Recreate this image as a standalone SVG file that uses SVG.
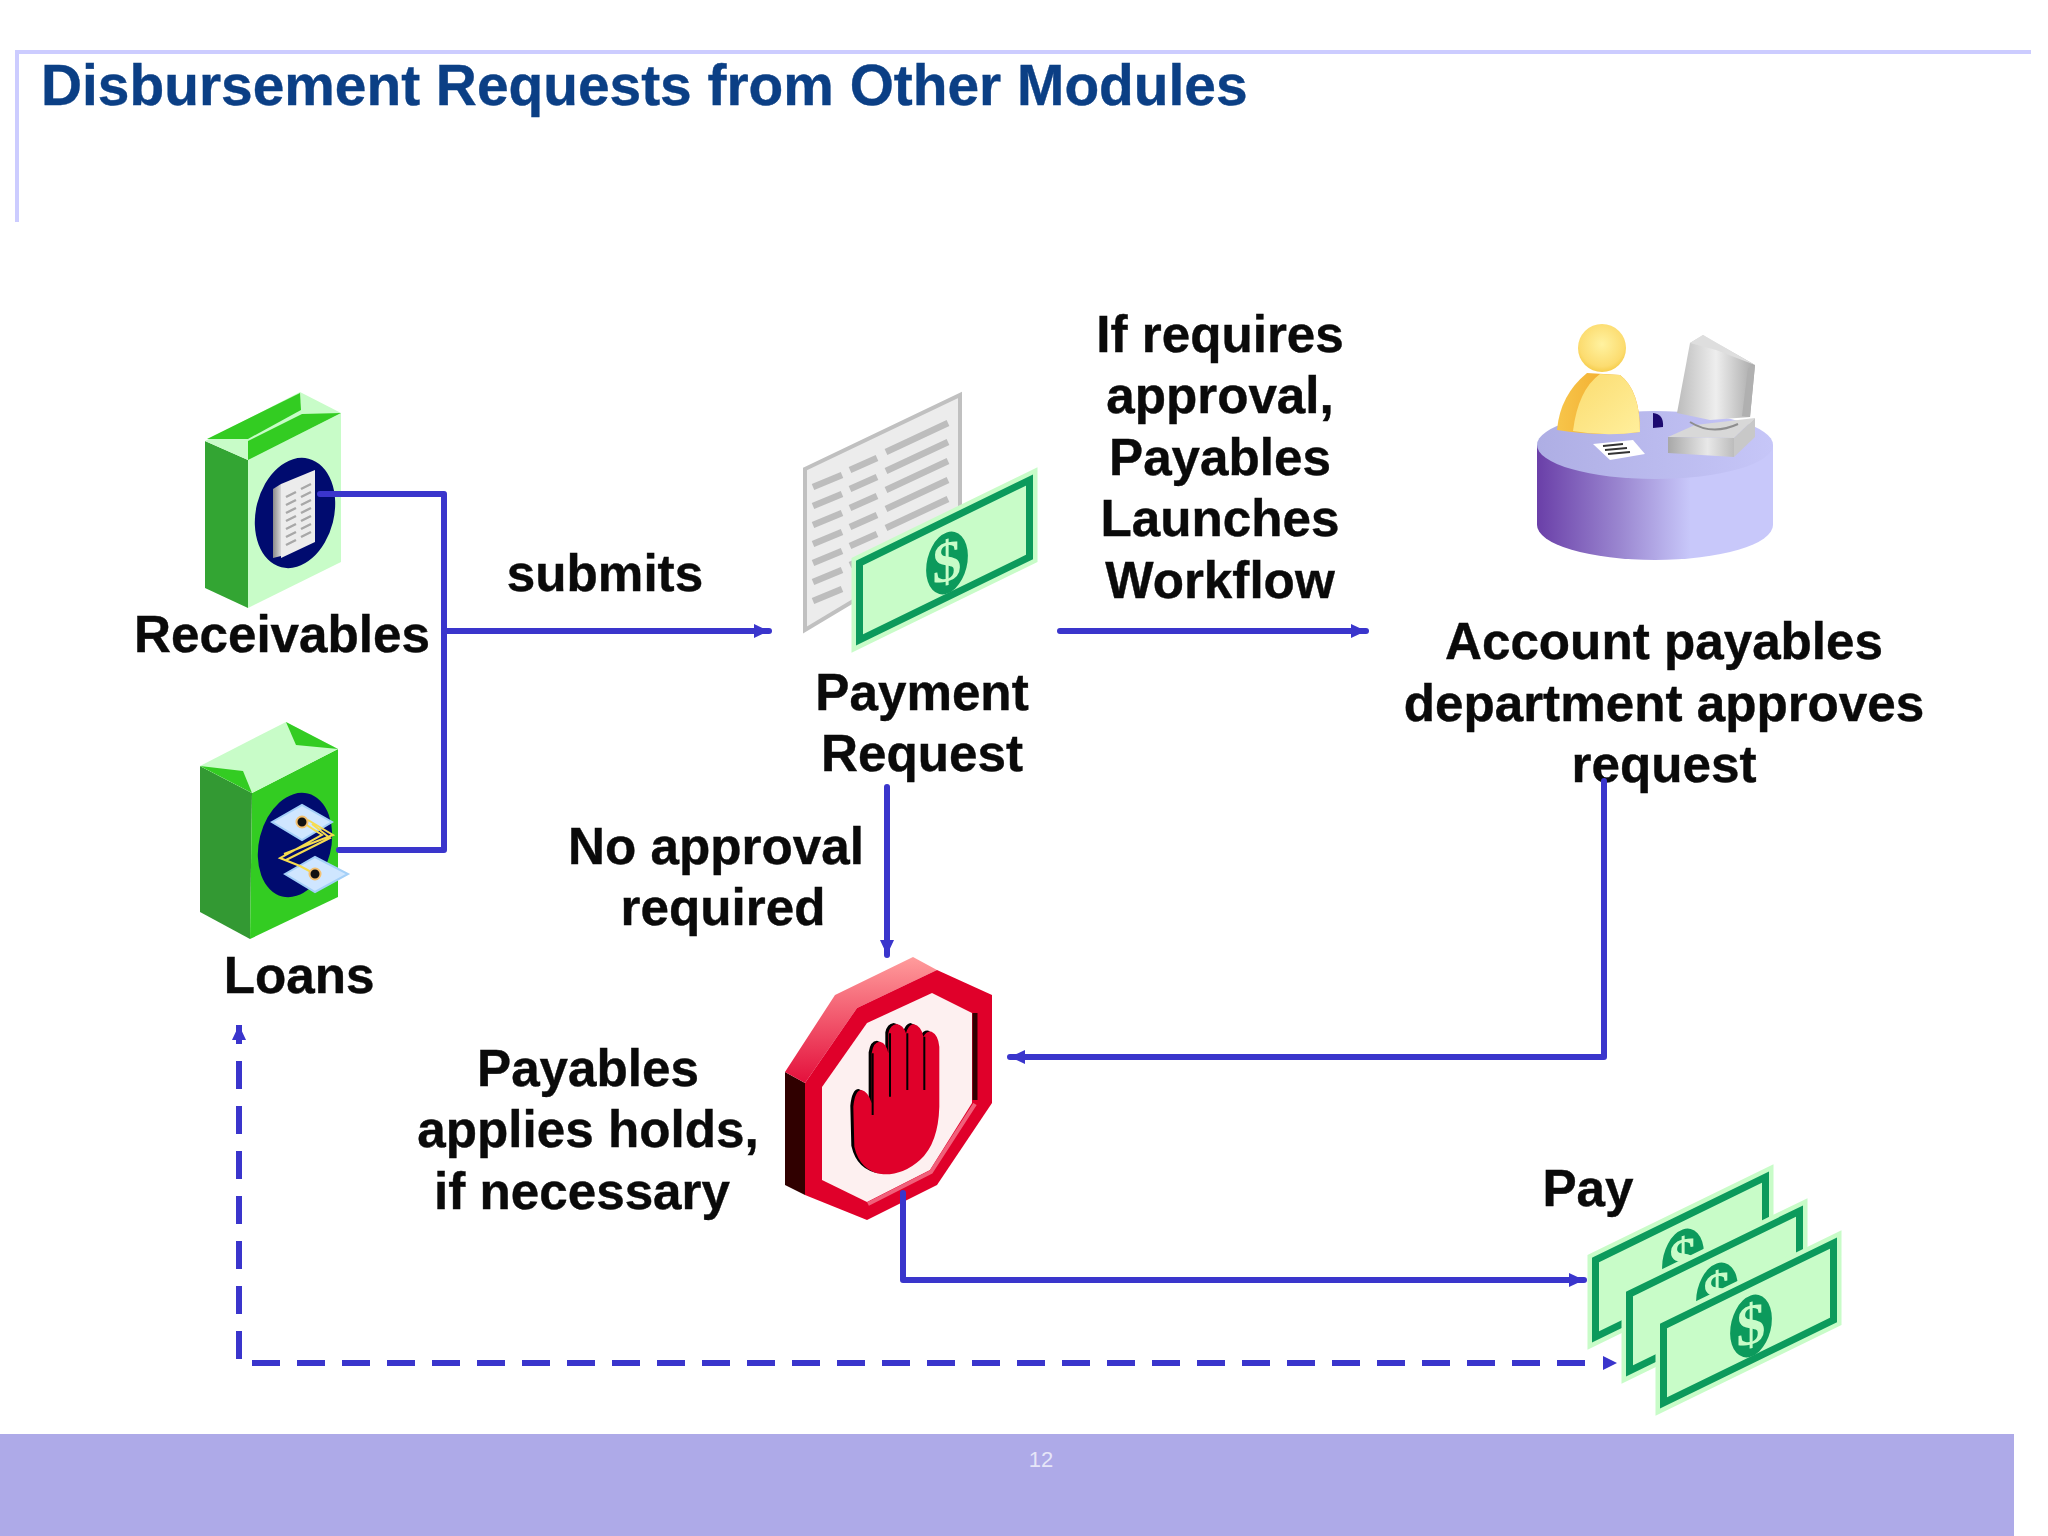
<svg xmlns="http://www.w3.org/2000/svg" width="2048" height="1536" viewBox="0 0 2048 1536">
<style>
text{font-family:"Liberation Sans",Arial,sans-serif}
.lb{font-size:51.2px;font-weight:700;fill:#0a0a0a;stroke:#0a0a0a;stroke-width:.4px;text-anchor:middle}
.c{fill:none;stroke:#3a35cc;stroke-width:6;stroke-linejoin:round;stroke-linecap:round}
.h{fill:#3a35cc}
.usd{font-family:"Liberation Serif","Times New Roman",serif;font-size:58px;font-weight:700;fill:#c8fcc8;text-anchor:middle}
</style>
<defs>
<marker id="a" markerUnits="userSpaceOnUse" markerWidth="16" markerHeight="14" refX="15" refY="7" orient="auto"><path d="M0 0L15 7L0 14Z" fill="#3a35cc"/></marker>
<linearGradient id="desk" x1="0" x2="1" y1="0" y2="0"><stop offset="0" stop-color="#6a3fa8"/><stop offset=".35" stop-color="#9a86d0"/><stop offset=".65" stop-color="#c8c8fa"/><stop offset="1" stop-color="#c8c8fa"/></linearGradient>
<linearGradient id="desktop" x1="0" x2="1" y1="0" y2="0"><stop offset="0" stop-color="#aeaee4"/><stop offset="1" stop-color="#c6c6f8"/></linearGradient>
<radialGradient id="head" cx=".5" cy=".42" r=".62"><stop offset="0" stop-color="#fff2a0"/><stop offset=".75" stop-color="#fcdc70"/><stop offset="1" stop-color="#f4c840"/></radialGradient>
<linearGradient id="body" x1="0" x2="1" y1="0" y2="1"><stop offset="0" stop-color="#fbdc70"/><stop offset="1" stop-color="#ffef9c"/></linearGradient>
<linearGradient id="lobe" x1="0" x2="1" y1="0" y2="0"><stop offset="0" stop-color="#f7c54a"/><stop offset="1" stop-color="#f0a020"/></linearGradient>
<linearGradient id="mon" x1="0" x2="1" y1="0" y2="0"><stop offset="0" stop-color="#bcbcbc"/><stop offset=".5" stop-color="#eeeeee"/><stop offset="1" stop-color="#a8a8a8"/></linearGradient>
<linearGradient id="base" x1="0" x2="1" y1="0" y2="0"><stop offset="0" stop-color="#a8a8a8"/><stop offset=".6" stop-color="#e8e8e8"/><stop offset="1" stop-color="#bcbcbc"/></linearGradient>
<linearGradient id="rim" x1="0" x2="0" y1="0" y2="1"><stop offset="0" stop-color="#ff9c9c"/><stop offset="1" stop-color="#e4103c"/></linearGradient>
<linearGradient id="spine" x1="0" x2="1" y1="0" y2="0"><stop offset="0" stop-color="#8a8a8a"/><stop offset="1" stop-color="#d8d8d8"/></linearGradient>
<g id="bill">
<polygon points="3.5,3 173.5,-80 173.5,-3 3.5,80" fill="#c8fcc8" stroke="#c8fcc8" stroke-width="16" stroke-linejoin="miter"/>
<polygon points="3.5,3 173.5,-80 173.5,-3 3.5,80" fill="#c8fcc8" stroke="#0c9a5c" stroke-width="7" stroke-linejoin="miter"/>
<ellipse cx="91" cy="3" rx="20" ry="32" transform="rotate(14 91 3)" fill="#0c9a5c"/>
</g>
</defs>
<rect width="2048" height="1536" fill="#fff"/>
<g id="frame">
<path d="M17 222V52H2031" fill="none" stroke="#ccccff" stroke-width="4"/>
<text x="41" y="105" font-size="56.85" font-weight="700" fill="#0b3f85" stroke="#0b3f85" stroke-width=".4">Disbursement Requests from Other Modules</text>
</g>
<g id="footer">
<rect x="0" y="1434" width="2014" height="102" fill="#aeaae8"/>
<text x="1041" y="1467" font-size="22" fill="#e6e6f8" text-anchor="middle">12</text>
</g>
<g id="receivables">
<polygon points="205,441 248,460 248,608 205,588" fill="#33a533"/>
<polygon points="248,460 341,413 341,562 248,608" fill="#c8fcc8"/>
<polygon points="205,441 300,392 341,413 248,460" fill="#c8fcc8"/>
<polygon points="207,439 300,393 301,410 248,439" fill="#33cc22"/>
<polygon points="248,441 302,414 341,413 248,460" fill="#33cc22"/>
<ellipse cx="295" cy="513" rx="39" ry="56" transform="rotate(14 295 513)" fill="#000b6f"/>
<polygon points="273,489 281,484 281,556 273,558" fill="url(#spine)"/>
<polygon points="281,484 315,470 315,542 281,558" fill="#ececec"/>
<path d="M286 497l10-5M286 505l10-5M286 513l10-5M286 521l10-5M286 529l10-5M286 537l10-5M286 545l10-5M301 489l10-5M301 497l10-5M301 505l10-5M301 513l10-5M301 521l10-5M301 529l10-5M301 537l10-5" stroke="#a8a8a8" stroke-width="2.5" fill="none"/>
<text class="lb" x="282" y="652">Receivables</text>
</g>
<g id="loans">
<polygon points="200,766 252,793 250,939 200,912" fill="#339933"/>
<polygon points="252,793 338,749 338,897 250,939" fill="#33cc22"/>
<polygon points="200,766 286,722 338,749 252,793" fill="#c8fcc8"/>
<polygon points="286,722 338,749 296,745" fill="#33cc22"/>
<polygon points="200,766 243,771 252,793" fill="#33cc22"/>
<ellipse cx="295" cy="845" rx="36" ry="53" transform="rotate(14 295 845)" fill="#000b6f"/>
<polygon points="272,822 302,805 332,822 302,840" fill="#cfe6ff" stroke="#a4d0f8" stroke-width="2"/>
<polygon points="285,874 315,857 348,874 315,892" fill="#cfe6ff" stroke="#a4d0f8" stroke-width="2"/>
<path d="M302 822L322 835L280 858L300 866L315 874M308 820L333 835L284 854M312 824L330 838L286 860" fill="none" stroke="#f6dc50" stroke-width="2"/>
<circle cx="302" cy="822" r="5.5" fill="#111" stroke="#f4c070" stroke-width="2"/>
<circle cx="315" cy="874" r="5.5" fill="#111" stroke="#f4c070" stroke-width="2"/>
<text class="lb" x="299" y="993">Loans</text>
</g>
<g id="payment-request">
<polygon points="805,469 960,395 960,537 805,630" fill="#ececec" stroke="#c0c0c0" stroke-width="4"/>
<path d="M813 487l29-12M813 506l29-12M813 525l29-12M813 544l29-12M813 563l29-12M813 582l29-12M813 601l29-12M850 470l27-12M850 489l27-12M850 508l27-12M850 527l27-12M850 546l27-12M850 565l27-12M886 452l62-29M886 471l62-29M886 490l62-29M886 509l62-29M886 528l62-29" stroke="#bdbdbd" stroke-width="6.5" fill="none"/>
<use href="#bill" x="856" y="560"/>
<text class="usd" transform="translate(947 581) skewY(-12)">$</text>
<text class="lb" x="922" y="710">Payment</text>
<text class="lb" x="922" y="771">Request</text>
</g>
<g id="workflow-label">
<text class="lb" x="1220" y="352">If requires</text>
<text class="lb" x="1220" y="413">approval,</text>
<text class="lb" x="1220" y="475">Payables</text>
<text class="lb" x="1220" y="536">Launches</text>
<text class="lb" x="1220" y="598">Workflow</text>
</g>
<g id="submits-label"><text class="lb" x="605" y="591">submits</text></g>
<g id="ap-department">
<path d="M1537 445V525A118 35 0 0 0 1773 525V445Z" fill="url(#desk)"/>
<ellipse cx="1655" cy="445" rx="118" ry="34" fill="url(#desktop)"/>
<path d="M1653 413Q1664 414 1663 427L1653 428Z" fill="#1d0a70"/>
<path d="M1557 430Q1560 395 1587 373L1620 375Q1640 390 1640 432Q1600 437 1557 430Z" fill="url(#lobe)"/>
<path d="M1573 431Q1578 390 1600 374L1620 375Q1640 390 1640 432Q1605 437 1573 431Z" fill="url(#body)"/>
<circle cx="1602" cy="348" r="24" fill="url(#head)"/>
<polygon points="1593,444 1633,440 1645,454 1610,460" fill="#fff"/>
<path d="M1603 446l20-2M1605 450l22-2M1608 454l22-2" stroke="#333" stroke-width="2" fill="none"/>
<polygon points="1668,437 1695,425 1755,418 1734,438" fill="#d8d8d8"/>
<polygon points="1668,437 1734,438 1734,457 1668,453" fill="url(#base)"/>
<polygon points="1734,438 1755,418 1755,437 1734,457" fill="#c8c8c8"/>
<path d="M1690 422Q1712 436 1738 424" stroke="#8e8e8e" stroke-width="2" fill="none"/>
<polygon points="1690,343 1703,335 1755,365 1750,417 1710,420 1677,413" fill="url(#mon)"/>
<polygon points="1690,343 1703,335 1755,365 1716,350" fill="#dedede"/>
<polygon points="1750,417 1755,365 1748,368 1742,416" fill="#b0b0b0"/>
<text class="lb" x="1664" y="659">Account payables</text>
<text class="lb" x="1664" y="721">department approves</text>
<text class="lb" x="1664" y="782">request</text>
</g>
<g id="no-approval-label">
<text class="lb" x="716" y="864">No approval</text>
<text class="lb" x="723" y="925">required</text>
</g>
<g id="holds">
<polygon points="785,1072 805,1083 805,1195 785,1185" fill="#300000"/>
<polygon points="785,1072 835,995 913,957 937,970 857,1008 805,1083" fill="url(#rim)"/>
<polygon points="937,970 992,995 992,1103 937,1185 867,1220 805,1195 805,1083 857,1008" fill="#e0002a"/>
<polygon points="932,993 972,1013 972,1103 930,1170 867,1202 822,1180 822,1087 867,1023" fill="#fdf0f0"/>
<path d="M975 1013V1100" stroke="#300000" stroke-width="5" fill="none"/>
<path d="M975 1104L931 1172L868 1204" stroke="#f0607a" stroke-width="4" fill="none"/>
<g transform="translate(770 940) scale(.3333)">
<path transform="translate(-9 -3)" d="M250 500Q255 450 275 450Q295 455 305 490L305 340Q310 305 330 305Q350 310 355 340L355 280Q360 255 380 252Q400 255 408 280Q415 255 430 252Q455 258 460 290Q470 272 485 275Q505 285 508 320L508 500Q505 610 450 660Q400 705 340 703Q270 695 253 620Z" fill="#000"/>
<path d="M250 500Q255 450 275 450Q295 455 305 490L305 340Q310 305 330 305Q350 310 355 340L355 280Q360 255 380 252Q400 255 408 280Q415 255 430 252Q455 258 460 290Q470 272 485 275Q505 285 508 320L508 500Q505 610 450 660Q400 705 340 703Q270 695 253 620Z" fill="#e0002a"/>
<path d="M308 340V525M360 280V470M412 280V450M463 290V450" stroke="#000" stroke-width="6" fill="none"/>
</g>
<text class="lb" x="588" y="1086">Payables</text>
<text class="lb" x="588" y="1147">applies holds,</text>
<text class="lb" x="582" y="1209">if necessary</text>
</g>
<g id="pay">
<use href="#bill" x="1592" y="1257"/>
<text class="usd" transform="translate(1683 1278) skewY(-12)">$</text>
<use href="#bill" x="1626" y="1291"/>
<text class="usd" transform="translate(1717 1312) skewY(-12)">$</text>
<use href="#bill" x="1660" y="1323"/>
<text class="usd" transform="translate(1751 1344) skewY(-12)">$</text>
<text class="lb" x="1588" y="1206">Pay</text>
</g>
<g id="connectors">
<path class="c" d="M320 494H444V850H339"/>
<path class="c" marker-end="url(#a)" d="M444 631H769"/>
<path class="c" marker-end="url(#a)" d="M1060 631H1366"/>
<path class="c" marker-end="url(#a)" d="M887 787V955"/>
<path class="c" marker-end="url(#a)" d="M1604 781V1057H1010"/>
<path class="c" marker-end="url(#a)" d="M903 1193V1280H1584"/>
<path class="c" marker-end="url(#a)" style="stroke-linecap:butt" stroke-dasharray="28 17" d="M1585 1363H239V1025"/>
<polygon class="h" points="1603,1356 1617,1363 1603,1370"/>
</g>
</svg>
